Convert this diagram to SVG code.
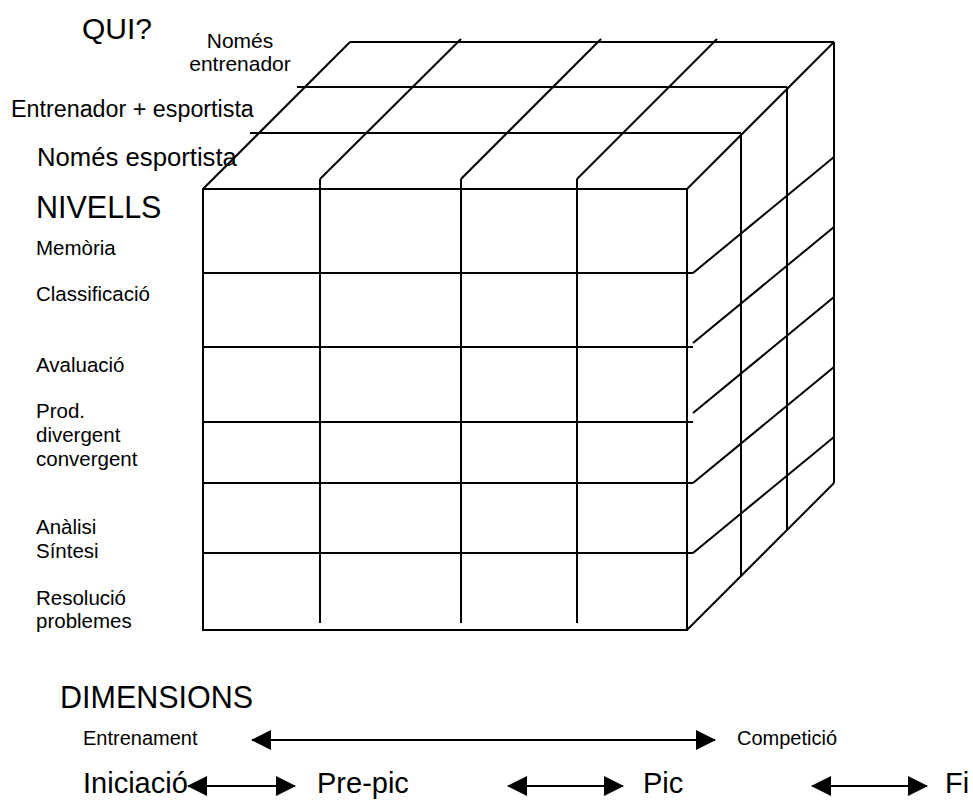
<svg xmlns="http://www.w3.org/2000/svg" width="973" height="800" viewBox="0 0 973 800">
<style>
  .ln { stroke: #000; stroke-width: 2; fill: none; stroke-linecap: butt; }
  .t { font-family: "Liberation Sans", Arial, sans-serif; fill: #000; }
  .s20 { font-size: 20.5px; }
</style>
<defs>
  <marker id="ah" markerUnits="userSpaceOnUse" markerWidth="20" markerHeight="20" viewBox="0 0 20 20" refX="19" refY="10" orient="auto-start-reverse">
    <path d="M0,0 L20,10 L0,20 Z" fill="#000"/>
  </marker>
</defs>
<rect width="973" height="800" fill="#fff"/>

<g id="cube">
  <g id="cube-top" class="ln">
    <line x1="350" y1="42" x2="834" y2="42"/>
    <line x1="297" y1="87" x2="787" y2="87"/>
    <line x1="250" y1="133" x2="741" y2="133"/>
    <line x1="203" y1="189" x2="350" y2="42"/>
    <line x1="461" y1="39" x2="320" y2="179"/>
    <line x1="601" y1="39" x2="461" y2="179"/>
    <line x1="717" y1="39" x2="577" y2="179"/>
    <line x1="687" y1="189" x2="834" y2="42"/>
  </g>
  <g id="cube-front" class="ln">
    <rect x="203" y="189" width="484" height="441"/>
    <line x1="203" y1="273" x2="693" y2="273"/>
    <line x1="203" y1="347" x2="693" y2="347"/>
    <line x1="203" y1="422" x2="693" y2="422"/>
    <line x1="203" y1="483" x2="693" y2="483"/>
    <line x1="203" y1="553" x2="693" y2="553"/>
    <line x1="320" y1="179" x2="320" y2="623"/>
    <line x1="461" y1="179" x2="461" y2="623"/>
    <line x1="577" y1="179" x2="577" y2="623"/>
  </g>
  <g id="cube-side" class="ln">
    <line x1="693" y1="273" x2="834" y2="157"/>
    <line x1="693" y1="343" x2="834" y2="227"/>
    <line x1="693" y1="413" x2="834" y2="297"/>
    <line x1="693" y1="483" x2="834" y2="367"/>
    <line x1="693" y1="553" x2="834" y2="437"/>
    <line x1="687" y1="630" x2="834" y2="483"/>
    <line x1="834" y1="42" x2="834" y2="483"/>
    <line x1="741" y1="133" x2="741" y2="576"/>
    <line x1="787" y1="87" x2="787" y2="529"/>
  </g>
</g>

<g id="qui-labels">
  <text class="t" x="82" y="39" font-size="30">QUI?</text>
  <text class="t" x="240" y="48" font-size="21" text-anchor="middle">Només</text>
  <text class="t" x="240" y="71" font-size="21" text-anchor="middle">entrenador</text>
  <text class="t" x="11" y="117" font-size="23.3">Entrenador + esportista</text>
  <text class="t" x="37" y="166" font-size="25.7">Només esportista</text>
</g>

<g id="nivells-labels">
  <text class="t" x="36" y="218" font-size="30.5">NIVELLS</text>
  <text class="t s20" x="36" y="255">Memòria</text>
  <text class="t s20" x="36" y="301">Classificació</text>
  <text class="t s20" x="36" y="372">Avaluació</text>
  <text class="t s20" x="36" y="418">Prod.</text>
  <text class="t s20" x="36" y="442">divergent</text>
  <text class="t s20" x="36" y="466">convergent</text>
  <text class="t s20" x="36" y="534">Anàlisi</text>
  <text class="t s20" x="36" y="558">Síntesi</text>
  <text class="t s20" x="36" y="605">Resolució</text>
  <text class="t s20" x="36" y="628">problemes</text>
</g>

<g id="dimensions-labels">
  <text class="t" x="60" y="708" font-size="30.5">DIMENSIONS</text>
  <text class="t" x="83" y="745" font-size="20">Entrenament</text>
  <text class="t" x="737" y="745" font-size="20">Competició</text>
  <text class="t" x="83" y="793" font-size="29">Iniciació</text>
  <text class="t" x="317" y="793" font-size="29">Pre-pic</text>
  <text class="t" x="643" y="793" font-size="29">Pic</text>
  <text class="t" x="945" y="793" font-size="29">Fi</text>
</g>

<g id="connectors" class="ln">
  <line x1="252" y1="740" x2="715" y2="740" marker-start="url(#ah)" marker-end="url(#ah)"/>
  <line x1="188" y1="786" x2="295" y2="786" marker-start="url(#ah)" marker-end="url(#ah)"/>
  <line x1="508" y1="786" x2="623" y2="786" marker-start="url(#ah)" marker-end="url(#ah)"/>
  <line x1="812" y1="786" x2="927" y2="786" marker-start="url(#ah)" marker-end="url(#ah)"/>
</g>
</svg>
